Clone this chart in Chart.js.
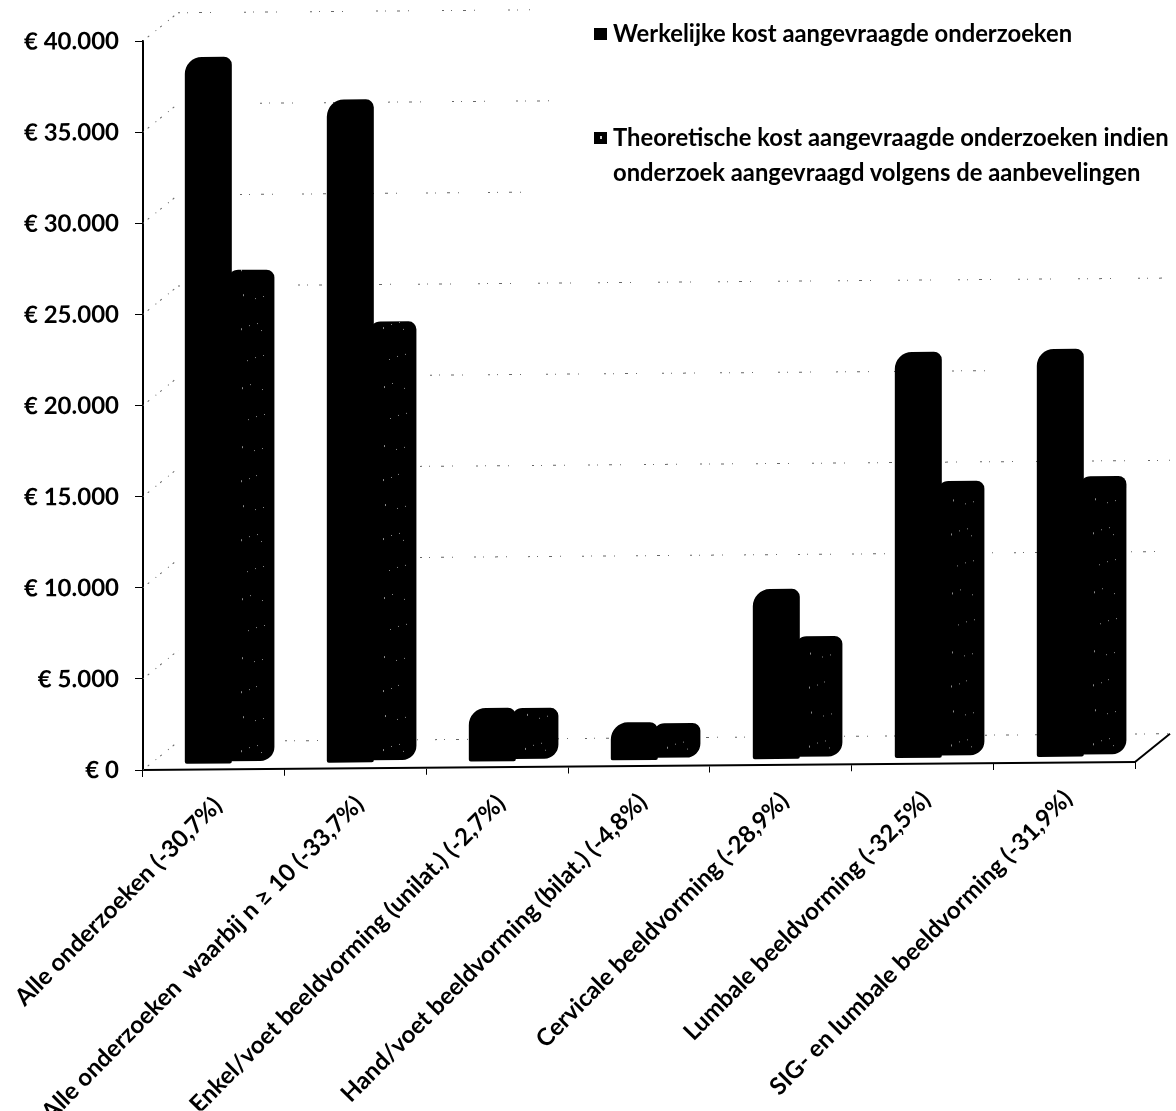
<!DOCTYPE html>
<html lang="nl">
<head>
<meta charset="utf-8">
<title>Kost aangevraagde onderzoeken</title>
<script src="https://cdn.jsdelivr.net/npm/chart.js@4"></script>
<style>
  html, body { margin: 0; background: #fff; }
  #wrap { position: relative; width: 1176px; height: 1111px; overflow: hidden; }
  #legend { font: 700 23.8px Lato, sans-serif; color: #000; }
  #legend div { position: absolute; left: 613px; white-space: nowrap; line-height: 32px; }
  #legend i { position: absolute; left: -19px; top: 11px; width: 13px; height: 12px; background: #000; }
  #legend i.speckled::after { content: ""; position: absolute; left: 6px; top: 4px; width: 2px; height: 3px; background: #ccc; }
</style>
</head>
<body>
<div id="wrap">
  <canvas id="chart" width="1176" height="1111"></canvas>
  <div id="legend"></div>
</div>
<script>
const categories = [
  "Alle onderzoeken (-30,7%)",
  "Alle onderzoeken  waarbij n ≥ 10 (-33,7%)",
  "Enkel/voet beeldvorming (unilat.) (-2,7%)",
  "Hand/voet beeldvorming (bilat.) (-4,8%)",
  "Cervicale beeldvorming (-28,9%)",
  "Lumbale beeldvorming (-32,5%)",
  "SIG- en lumbale beeldvorming (-31,9%)",
];
const seriesNames = [
  "Werkelijke kost aangevraagde onderzoeken",
  "Theoretische kost aangevraagde onderzoeken indien\nonderzoek aangevraagd volgens de aanbevelingen",
];
const actualCost = [39100, 36700, 3250, 2400, 9650, 22600, 22700];
const theoreticalCost = [27400, 24500, 3230, 2340, 7050, 15500, 15700];
const yTicks = [0, 5000, 10000, 15000, 20000, 25000, 30000, 35000, 40000];

// the bars stand a little in front of the axis, on the floor of the 3D box
const actualFloor = 320;
const theoreticalFloor = 440;

const FONT = "Lato, sans-serif";
const DEPTH_X = 35;
const DEPTH_Y = -28;
const SHEAR = 0.0081;

function formatEuro(value) {
  return "€ " + String(value).replace(/\B(?=(\d{3})+$)/g, ".");
}

// black fill with a light grain running down the middle of the bar
function grainPattern() {
  const tile = document.createElement("canvas");
  tile.width = 142;
  tile.height = 211;
  const c = tile.getContext("2d");
  c.fillStyle = "#000";
  c.fillRect(0, 0, tile.width, tile.height);
  c.fillStyle = "#8a8a8a";
  for (let n = 1; n <= 22; n++) {
    const x = 98 + ((n * 0.7549) % 1) * 28;
    const y = ((n * 0.5698) % 1) * tile.height;
    c.fillRect(Math.round(x), Math.round(y), 1, n % 4 === 0 ? 2 : 1);
  }
  return c.createPattern(tile, "repeat");
}

// the whole drawing leans up slightly to the right
const shearPlugin = {
  id: "shear",
  beforeDraw(chart) {
    const { ctx, chartArea } = chart;
    ctx.save();
    ctx.transform(1, -SHEAR, 0, 1, 0, SHEAR * chartArea.left);
  },
  afterDraw(chart) {
    chart.ctx.restore();
  },
};

// back wall of the box: faint broken grid lines, plus the floor edge on the right
const wallReach = { 40000: [178, 530], 35000: [260, 570], 30000: [240, 530], 25000: [178, 1170],
  20000: [430, 1000], 15000: [420, 1170], 10000: [420, 1170], 5000: [178, 178], 0: [235, 1170] };

const wallPlugin = {
  id: "wall",
  beforeDatasetsDraw(chart) {
    const { ctx, chartArea } = chart;
    const y = chart.scales.y;
    ctx.save();
    ctx.strokeStyle = "#666";
    ctx.lineWidth = 1;
    yTicks.forEach((tick, i) => {
      const py = y.getPixelForValue(tick);
      ctx.setLineDash([1, 5, 2, 8]);
      ctx.beginPath();
      ctx.moveTo(chartArea.left, py);
      ctx.lineTo(chartArea.left + DEPTH_X, py + DEPTH_Y);
      ctx.stroke();
      const [from, to] = wallReach[tick];
      ctx.setLineDash([2, 7, 1, 11, 3, 8, 1, 17 + i * 2]);
      ctx.beginPath();
      ctx.moveTo(from, py + DEPTH_Y);
      ctx.lineTo(to, py + DEPTH_Y);
      ctx.stroke();
    });
    ctx.setLineDash([]);
    ctx.strokeStyle = "#000";
    ctx.lineWidth = 2;
    ctx.beginPath();
    ctx.moveTo(chartArea.right, chartArea.bottom);
    ctx.lineTo(chartArea.right + DEPTH_X, chartArea.bottom + DEPTH_Y);
    ctx.stroke();
    ctx.restore();
  },
};

const chart = new Chart(document.querySelector("#chart"), {
  type: "bar",
  data: {
    labels: categories,
    datasets: [
      {
        label: seriesNames[0],
        xAxisID: "xBars",
        data: actualCost.map((value, i) => ({ x: i + 0.46, y: [actualFloor, value] })),
        backgroundColor: "#000",
        borderRadius: { topLeft: 17, topRight: 8, bottomLeft: 2, bottomRight: 2 },
      },
      {
        label: seriesNames[1],
        xAxisID: "xBars",
        data: theoreticalCost.map((value, i) => ({ x: i + 0.76, y: [theoreticalFloor, value] })),
        backgroundColor: grainPattern(),
        borderRadius: { topLeft: 11, topRight: 8, bottomLeft: 2, bottomRight: 14 },
      },
    ],
  },
  options: {
    responsive: false,
    animation: false,
    devicePixelRatio: 1,
    layout: { padding: { top: 41, right: 41 } },
    datasets: {
      bar: {
        grouped: false,
        barThickness: 47,
        borderSkipped: false,
        inflateAmount: 0,
      },
    },
    plugins: {
      legend: { display: false },
      tooltip: { enabled: false },
    },
    scales: {
      x: {
        type: "category",
        offset: true,
        // long rotated labels must not push the plot area inwards
        afterFit: (scale) => {
          scale.height = 341;
          scale.paddingLeft = 0;
          scale.paddingRight = 0;
        },
        border: { color: "#000", width: 2 },
        grid: { offset: true, drawOnChartArea: false, color: "#000", tickLength: 7 },
        ticks: {
          autoSkip: false,
          minRotation: 45,
          maxRotation: 45,
          padding: 15,
          labelOffset: 4,
          color: "#000",
          font: { family: FONT, size: 24, weight: "700" },
        },
      },
      xBars: { type: "linear", display: false, offset: false, min: 0, max: 6.986 },
      y: {
        min: 0,
        max: 40000,
        afterFit: (scale) => { scale.width = 143; },
        afterBuildTicks: (scale) => { scale.ticks = yTicks.map((value) => ({ value })); },
        border: { color: "#000", width: 2 },
        grid: { drawOnChartArea: false, color: "#000", tickLength: 8 },
        ticks: {
          padding: 16,
          color: "#000",
          font: { family: FONT, size: 24, weight: "700" },
          callback: (value) => formatEuro(value),
        },
      },
    },
  },
  plugins: [shearPlugin, wallPlugin],
});

// legend sits in the empty upper right of the plot
const legendTops = [[17], [121, 156]];
const legend = document.querySelector("#legend");
seriesNames.forEach((name, s) => {
  name.split("\n").forEach((line, l) => {
    const row = document.createElement("div");
    row.style.top = `${legendTops[s][l]}px`;
    row.textContent = line;
    if (l === 0) {
      const mark = document.createElement("i");
      if (s === 1) mark.className = "speckled";
      row.prepend(mark);
    }
    legend.append(row);
  });
});
</script>
</body>
</html>
